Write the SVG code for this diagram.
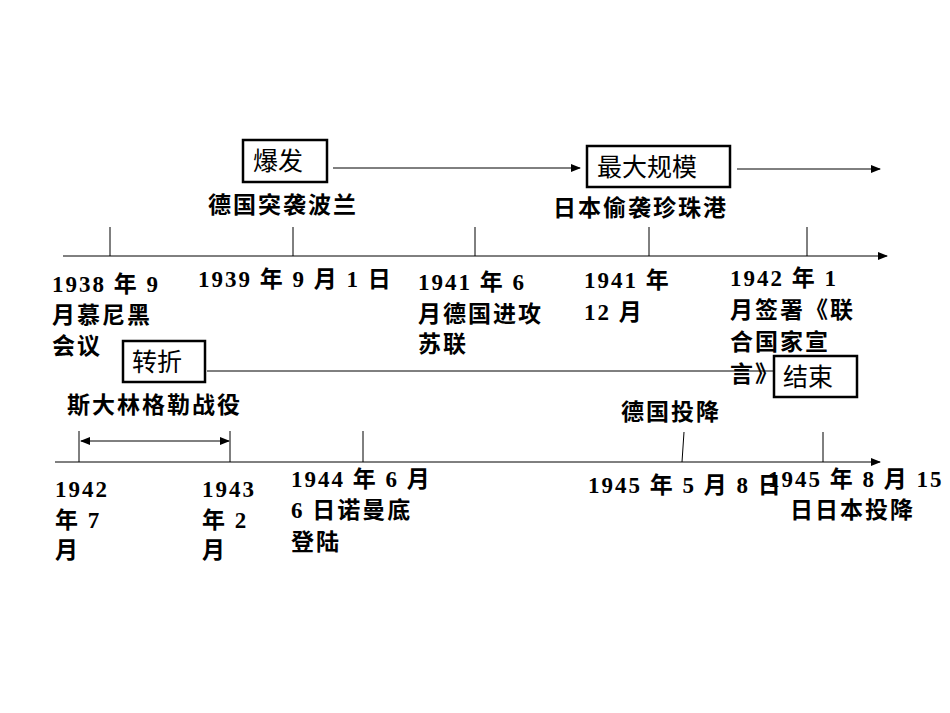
<svg xmlns="http://www.w3.org/2000/svg" width="950" height="713" viewBox="0 0 950 713">
<defs>
<marker id="ah" markerWidth="10" markerHeight="8" refX="9" refY="4" orient="auto" markerUnits="userSpaceOnUse"><path d="M0,0 L10,4 L0,8 Z" fill="#000"/></marker>
<marker id="ahs" markerWidth="10" markerHeight="8" refX="1" refY="4" orient="auto" markerUnits="userSpaceOnUse"><path d="M10,0 L0,4 L10,8 Z" fill="#000"/></marker>
<style>
.t{font-family:"Liberation Serif","Noto Sans CJK SC",serif;font-weight:bold;font-size:23px;letter-spacing:2px;fill:#000}
.b{font-family:"Liberation Sans","Noto Sans CJK SC",sans-serif;font-size:25px;fill:#000}
.bx{fill:#fff;stroke:#000;stroke-width:2.5}
.ln{stroke:#000;stroke-width:1;fill:none}
</style>
</defs>
<rect width="950" height="713" fill="#fff"/>
<g id="connectors">
<line class="ln" x1="63" y1="256" x2="887" y2="256" marker-end="url(#ah)"/>
<line class="ln" x1="110" y1="227" x2="110" y2="256"/>
<line class="ln" x1="293" y1="227" x2="293" y2="256"/>
<line class="ln" x1="475" y1="227" x2="475" y2="256"/>
<line class="ln" x1="649" y1="227" x2="649" y2="256"/>
<line class="ln" x1="807" y1="227" x2="807" y2="256"/>
<line class="ln" x1="55" y1="462" x2="880" y2="462" marker-end="url(#ah)"/>
<line class="ln" x1="79" y1="431" x2="79" y2="462"/>
<line class="ln" x1="230" y1="431" x2="230" y2="462"/>
<line class="ln" x1="363" y1="431" x2="363" y2="462"/>
<line class="ln" x1="684" y1="432" x2="682" y2="462"/>
<line class="ln" x1="823" y1="432" x2="823" y2="462"/>
<line class="ln" x1="81" y1="441" x2="229" y2="441" marker-start="url(#ahs)" marker-end="url(#ah)"/>
<line class="ln" x1="333" y1="168" x2="580" y2="168" marker-end="url(#ah)"/>
<line class="ln" x1="737" y1="169" x2="880" y2="169" marker-end="url(#ah)"/>
<line class="ln" x1="207" y1="371" x2="773" y2="371"/>
</g>
<g id="n-baofa"><rect class="bx" x="243" y="140" width="84" height="42"/><text class="b" x="253" y="170">爆发</text></g>
<g id="n-zuida"><rect class="bx" x="587" y="146" width="143" height="41"/><text class="b" x="597" y="176">最大规模</text></g>
<g id="n-zhuanzhe"><rect class="bx" x="123" y="341" width="82" height="41"/><text class="b" x="132" y="371">转折</text></g>
<g id="n-jieshu"><rect class="bx" x="774" y="356" width="83" height="41"/><text class="b" x="783" y="386">结束</text></g>
<g id="labels">
<text class="t" x="208" y="213">德国突袭波兰</text>
<text class="t" x="553" y="216">日本偷袭珍珠港</text>
<text class="t" x="52" y="292">1938 年 9</text>
<text class="t" x="52" y="323">月慕尼黑</text>
<text class="t" x="52" y="354">会议</text>
<text class="t" x="198" y="287">1939 年 9 月 1 日</text>
<text class="t" x="418" y="290">1941 年 6</text>
<text class="t" x="418" y="322">月德国进攻</text>
<text class="t" x="418" y="352">苏联</text>
<text class="t" x="584" y="288">1941 年</text>
<text class="t" x="584" y="320">12 月</text>
<text class="t" x="730" y="286">1942 年 1</text>
<text class="t" x="730" y="318">月签署《联</text>
<text class="t" x="730" y="350">合国家宣</text>
<text class="t" x="730" y="382">言》</text>
<text class="t" x="67" y="413">斯大林格勒战役</text>
<text class="t" x="621" y="420">德国投降</text>
<text class="t" x="55" y="497">1942</text>
<text class="t" x="55" y="528">年 7</text>
<text class="t" x="55" y="558">月</text>
<text class="t" x="202" y="497">1943</text>
<text class="t" x="202" y="528">年 2</text>
<text class="t" x="202" y="558">月</text>
<text class="t" x="291" y="487">1944 年 6 月</text>
<text class="t" x="291" y="518">6 日诺曼底</text>
<text class="t" x="291" y="550">登陆</text>
<text class="t" x="588" y="493">1945 年 5 月 8 日</text>
<text class="t" x="768" y="487">1945 年 8 月 15</text>
<text class="t" x="790" y="518">日日本投降</text>
</g>
</svg>
